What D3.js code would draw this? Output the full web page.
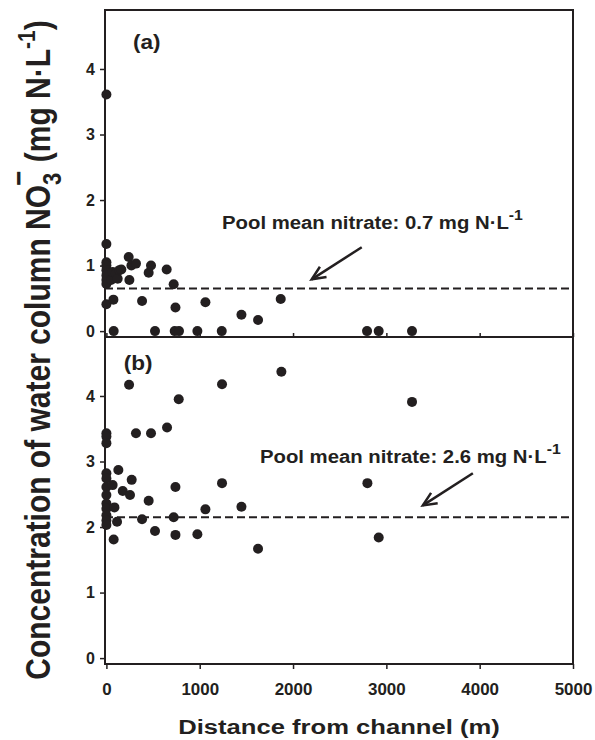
<!DOCTYPE html>
<html lang="en">
<head>
<meta charset="UTF-8">
<title>nitrate vs distance</title>
<style>
  body { margin: 0; background: #fff; }
  text { font-family: "Liberation Sans", Arial, sans-serif; font-weight: bold; fill: #231f20; }
</style>
</head>
<body>
<svg id="chart"></svg>
<script src="https://cdn.jsdelivr.net/npm/d3@7"></script>
<script>
    // panel (a)
    var distA    = [0, 0, 0, 0, 0, 0, 0, 0, 0, 50, 67, 100, 121, 139, 160, 239, 246, 268, 317, 453, 478, 646, 721,
                    75, 382, 740, 1061, 1447, 1625, 1868, 78, 521, 732, 778, 975, 1236, 2793, 2918, 3275];
    var nitrateA = [3.61, 1.33, 1.05, 1.00, 0.93, 0.85, 0.78, 0.72, 0.41, 0.78, 0.90, 0.88, 0.80, 0.93, 0.94, 1.13, 0.78, 1.00, 1.03, 0.89, 1.00, 0.94, 0.715,
                    0.48, 0.46, 0.36, 0.44, 0.25, 0.17, 0.49, 0, 0, 0, 0, 0, 0, 0, 0, 0];
    // panel (b)
    var distB    = [0, 0, 0, 0, 0, 0, 0, 0, 0, 0, 0, 0,
                    128, 271, 67, 175, 253, 453, 86, 114, 382, 521, 78, 317, 478, 650, 243, 775, 1239, 1875, 3275,
                    740, 1239, 1061, 1447, 721, 740, 975, 1625, 2797, 2918];
    var nitrateB = [3.43, 3.38, 3.28, 2.82, 2.74, 2.61, 2.49, 2.36, 2.28, 2.18, 2.10, 2.03,
                    2.87, 2.72, 2.64, 2.55, 2.49, 2.40, 2.30, 2.08, 2.12, 1.94, 1.81, 3.43, 3.43, 3.52, 4.17, 3.95, 4.18, 4.37, 3.91,
                    2.61, 2.67, 2.27, 2.31, 2.15, 1.88, 1.89, 1.67, 2.67, 1.84];
    var poolMean   = [0.65, 2.15];
    var poolLabels = ["Pool mean nitrate: 0.7 mg N·L", "Pool mean nitrate: 2.6 mg N·L"];
    var panelNames = ["(a)", "(b)"];
    var xTicks = [0, 1000, 2000, 3000, 4000, 5000];
    var yTicks = [0, 1, 2, 3, 4];

    var width = 595, height = 740;
    var plotLeft = 105, plotRight = 573, plotTop = 10, panelH = 327;
    var ink = "#231f20";
    var stretch = 1.13;   // the original type is a bit wider than Liberation Sans

    var svg = d3.select("#chart").attr("width", width).attr("height", height);
    svg.append("rect").attr("width", width).attr("height", height).attr("fill", "#fff");

    var x = d3.scaleLinear().domain([-15, 5000]).range([plotLeft, plotRight]);

    var panels = [
        {xs: distA, ys: nitrateA, y0: plotTop},
        {xs: distB, ys: nitrateB, y0: plotTop + panelH}
    ];
    // annotation positions in data units: text start, arrow tail, arrow tip, panel letter
    var notes = [
        {tx: 1239, ty: 1.56, ax1: 2736, ay1: 1.28, ax2: 2200, ay2: 0.79, lx: 285, ly: 4.3},
        {tx: 1645, ty: 2.97, ax1: 3927, ay1: 2.82, ax2: 3391, ay2: 2.33, lx: 185, ly: 4.4}
    ];

    panels.forEach(function(p, k) {
        var y = d3.scaleLinear().domain([-0.09, 4.9]).range([p.y0 + panelH, p.y0]);
        var g = svg.append("g");

        // left axis
        var yAxis = g.append("g").attr("transform", "translate(" + plotLeft + ",0)")
            .call(d3.axisLeft(y).tickValues(yTicks).tickSize(5).tickPadding(5).tickFormat(d3.format("d")));
        yAxis.select(".domain").remove();
        yAxis.selectAll("line").attr("stroke", ink).attr("stroke-width", 1.5);
        yAxis.selectAll("text").attr("font-size", 16).attr("font-family", null).attr("fill", ink);

        // bottom axis
        var xAxis = g.append("g").attr("transform", "translate(0," + (p.y0 + panelH) + ")");
        if (k === 1) {
            xAxis.call(d3.axisBottom(x).tickValues(xTicks).tickSize(5).tickPadding(15).tickFormat(d3.format("d")));
            xAxis.selectAll("text").attr("font-size", 16).attr("font-family", null).attr("fill", ink)
                .attr("transform", "scale(1.06,1)");
        } else {
            xAxis.call(d3.axisBottom(x).tickValues(xTicks).tickSize(-4).tickFormat(""));
        }
        xAxis.select(".domain").remove();
        xAxis.selectAll("line").attr("stroke", ink).attr("stroke-width", 1.5);

        // mean line
        g.append("line")
            .attr("x1", plotLeft).attr("x2", plotRight)
            .attr("y1", y(poolMean[k])).attr("y2", y(poolMean[k]))
            .attr("stroke", ink).attr("stroke-width", 2).attr("stroke-dasharray", "8,4");

        // points
        g.selectAll("circle").data(p.xs).enter().append("circle")
            .attr("cx", function(d) { return x(d); })
            .attr("cy", function(d, i) { return y(p.ys[i]); })
            .attr("r", 5)
            .attr("fill", ink);

        // panel letter
        g.append("text")
            .attr("transform", "translate(" + x(notes[k].lx) + "," + y(notes[k].ly) + ") scale(" + stretch + ",1)")
            .attr("font-size", 20).text(panelNames[k]);

        // annotation text with superscript
        var t = g.append("text")
            .attr("transform", "translate(" + x(notes[k].tx) + "," + y(notes[k].ty) + ") scale(" + stretch + ",1)")
            .attr("font-size", 18);
        t.append("tspan").text(poolLabels[k]);
        t.append("tspan").attr("dy", -9).attr("font-size", 14).text("-1");

        // arrow
        var n = notes[k];
        var x1 = x(n.ax1), y1 = y(n.ay1), x2 = x(n.ax2), y2 = y(n.ay2);
        var ang = Math.atan2(y2 - y1, x2 - x1);
        var hl = 15, spread = 0.42;
        g.append("line").attr("x1", x1).attr("y1", y1).attr("x2", x2).attr("y2", y2)
            .attr("stroke", ink).attr("stroke-width", 2.5);
        g.append("path")
            .attr("d", "M" + (x2 - hl * Math.cos(ang - spread)) + "," + (y2 - hl * Math.sin(ang - spread)) +
                       "L" + x2 + "," + y2 +
                       "L" + (x2 - hl * Math.cos(ang + spread)) + "," + (y2 - hl * Math.sin(ang + spread)))
            .attr("fill", "none").attr("stroke", ink).attr("stroke-width", 2.5);
    });

    // frame
    svg.append("rect").attr("x", plotLeft).attr("y", plotTop).attr("width", plotRight - plotLeft).attr("height", 2 * panelH)
        .attr("fill", "none").attr("stroke", ink).attr("stroke-width", 2);
    svg.append("line").attr("x1", plotLeft).attr("x2", plotRight).attr("y1", plotTop + panelH).attr("y2", plotTop + panelH)
        .attr("stroke", ink).attr("stroke-width", 2);

    // axis titles
    svg.append("text").attr("transform", "translate(339,734) scale(1.22,1)")
        .attr("text-anchor", "middle").attr("font-size", 21).text("Distance from channel (m)");

    var yt = svg.append("text").attr("transform", "translate(50,350) rotate(-90) scale(1,1.17)")
        .attr("text-anchor", "middle").attr("font-size", 30);
    yt.append("tspan").text("Concentration of water column NO");
    yt.append("tspan").attr("dy", 9).attr("font-size", 22).text("3");
    yt.append("tspan").attr("dx", -13).attr("dy", -27).attr("font-size", 26).text("−");
    yt.append("tspan").attr("dy", 18).text(" (mg N·L");
    yt.append("tspan").attr("dy", -13).attr("font-size", 21).text("-1");
    yt.append("tspan").attr("dy", 13).text(")");
</script>
</body>
</html>
